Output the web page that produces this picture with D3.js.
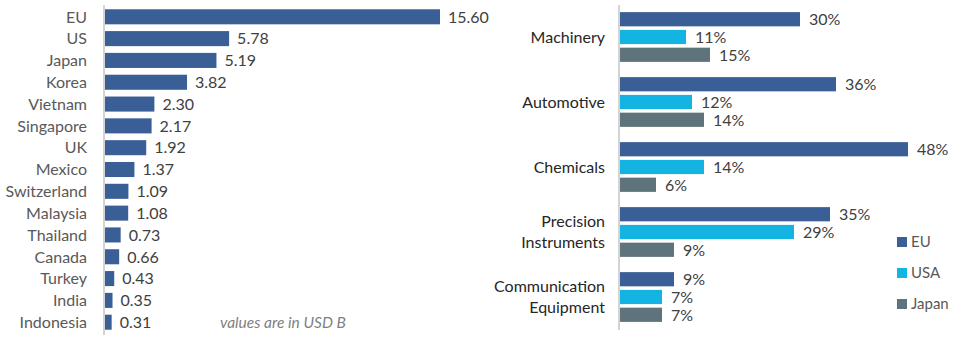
<!DOCTYPE html>
<html><head><meta charset="utf-8">
<script src="https://cdn.jsdelivr.net/npm/d3@7"></script>
<style>body{margin:0;background:#fff}svg{display:block}text{font-family:Lato,"Open Sans",sans-serif}</style>
</head><body>
<svg id="c" width="980" height="339"></svg>
<script>
const countries = ["EU","US","Japan","Korea","Vietnam","Singapore","UK","Mexico","Switzerland","Malaysia","Thailand","Canada","Turkey","India","Indonesia"];
const countryValues = [15.60,5.78,5.19,3.82,2.30,2.17,1.92,1.37,1.09,1.08,0.73,0.66,0.43,0.35,0.31];
const sectors = [["Machinery"],["Automotive"],["Chemicals"],["Precision","Instruments"],["Communication","Equipment"]];
const seriesNames = ["EU","USA","Japan"];
const euShare = [30,36,48,35,9];
const usaShare = [11,12,14,29,7];
const japanShare = [15,14,6,9,7];
const colors = ["#3A5F96","#13B4E2","#5E737C"];

const FS = 16;
const svg = d3.select("#c");

// Left chart
const xL = d3.scaleLinear().domain([0,15.6]).range([105,440]);
const yL = d3.scaleBand().domain(countries).range([6,333]).paddingInner(0.31).paddingOuter(0.15);
const gL = svg.append("g");
gL.selectAll("rect").data(countries).join("rect")
  .attr("x", xL(0)).attr("y", d=>yL(d))
  .attr("width", (d,i)=>xL(countryValues[i])-xL(0))
  .attr("height", yL.bandwidth()).attr("fill", colors[0]);
gL.selectAll("text.v").data(countries).join("text").attr("class","v")
  .attr("x",(d,i)=>xL(countryValues[i])+8).attr("y",d=>yL(d)+yL.bandwidth()/2)
  .attr("dy","0.36em").attr("font-size",FS).attr("fill","#404040")
  .text((d,i)=>countryValues[i].toFixed(2));
gL.selectAll("text.c").data(countries).join("text").attr("class","c")
  .attr("x",87).attr("y",d=>yL(d)+yL.bandwidth()/2)
  .attr("dy","0.36em").attr("text-anchor","end").attr("font-size",FS).attr("fill","#595959")
  .text(d=>d);
gL.append("line").attr("x1",104).attr("x2",104).attr("y1",5).attr("y2",335)
  .attr("stroke","#c4c4c4").attr("stroke-width",1.5);
gL.append("text").attr("x",220).attr("y",322).attr("dy","0.36em")
  .attr("font-size",15.5).attr("font-style","italic").attr("fill","#7f7f7f")
  .text("values are in USD B");

// Right chart
const xR = d3.scaleLinear().domain([0,48]).range([620,908]);
const yR = d3.scaleBand().domain(d3.range(sectors.length)).range([4.5,329.5]).paddingInner(0.18).paddingOuter(0.09);
const yS = d3.scaleBand().domain(seriesNames).range([0,yR.bandwidth()]).paddingInner(0.2).paddingOuter(0.1);
const seriesVals = [euShare,usaShare,japanShare];
const gR = svg.append("g");
seriesNames.forEach((s,si)=>{
  const vals = seriesVals[si];
  gR.selectAll("rect.s"+si).data(vals).join("rect").attr("class","s"+si)
    .attr("x",xR(0)).attr("y",(d,i)=>yR(i)+yS(s))
    .attr("width",d=>xR(d)-xR(0)).attr("height",yS.bandwidth()).attr("fill",colors[si]);
  gR.selectAll("text.s"+si).data(vals).join("text").attr("class","s"+si)
    .attr("x",d=>xR(d)+9).attr("y",(d,i)=>yR(i)+yS(s)+yS.bandwidth()/2)
    .attr("dy","0.36em").attr("font-size",FS).attr("fill","#404040")
    .text(d=>d+"%");
});
sectors.forEach((lines,i)=>{
  const cy = yR(i)+yR.bandwidth()/2;
  const t = gR.append("text").attr("text-anchor","end").attr("font-size",FS).attr("fill","#262626");
  lines.forEach((ln,j)=>{
    t.append("tspan").attr("x",605).attr("y",cy+(j-(lines.length-1)/2)*21).attr("dy","0.36em").text(ln);
  });
});
gR.append("line").attr("x1",619).attr("x2",619).attr("y1",5).attr("y2",330)
  .attr("stroke","#c4c4c4").attr("stroke-width",1.5);

// Legend
const lg = svg.append("g");
seriesNames.forEach((s,i)=>{
  const cy = 242+i*31;
  lg.append("rect").attr("x",897).attr("y",cy-5).attr("width",10).attr("height",10).attr("fill",colors[i]);
  lg.append("text").attr("x",911).attr("y",cy).attr("dy","0.36em").attr("font-size",15).attr("fill","#595959").text(s);
});
</script>
</body></html>
